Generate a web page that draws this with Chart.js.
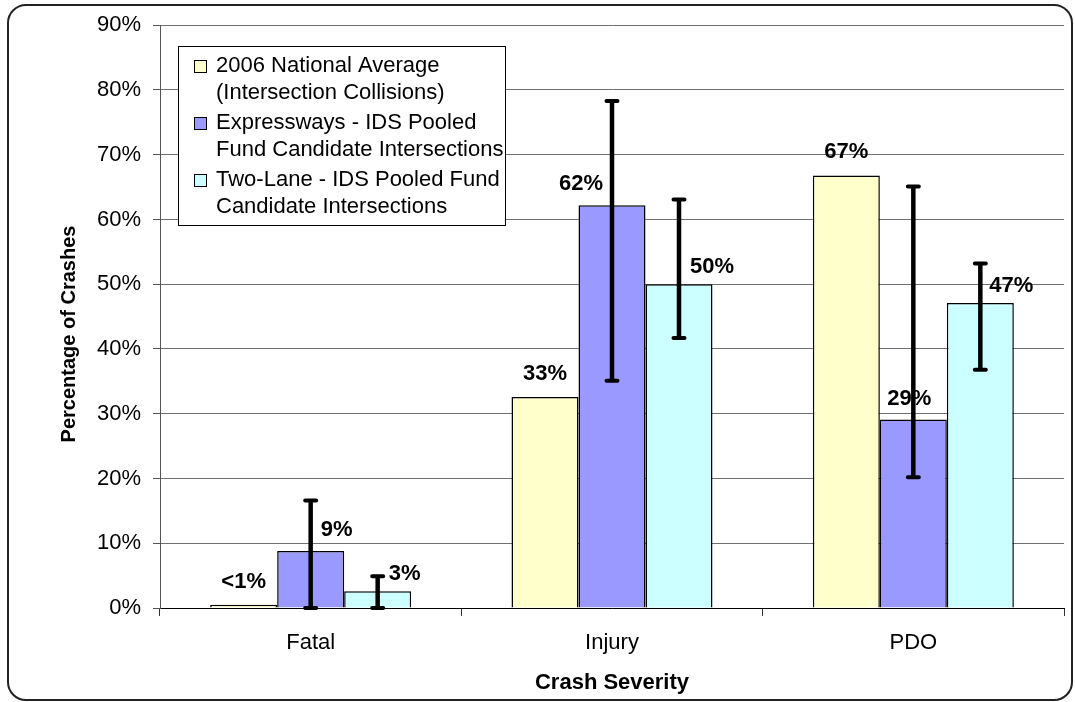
<!DOCTYPE html>
<html>
<head>
<meta charset="utf-8">
<script src="https://cdn.jsdelivr.net/npm/chart.js@4.4.1/dist/chart.umd.min.js"></script>
<style>
  body { margin: 0; background: #fff; }
  canvas { display: block; }
</style>
</head>
<body>
<canvas id="chart" width="1075" height="702"></canvas>
<script>
const categories = ["Fatal", "Injury", "PDO"];
const seriesNames = [
    ["2006 National Average", "(Intersection Collisions)"],
    ["Expressways - IDS Pooled", "Fund Candidate Intersections"],
    ["Two-Lane - IDS Pooled Fund", "Candidate Intersections"],
];
const nationalAvg = [0.5, 32.6, 66.8];
const expressways = [8.8, 62.2, 29.1];
const twoLane = [2.6, 50.0, 47.1];
const expresswaysLow = [0, 35.1, 20.2];
const expresswaysHigh = [16.6, 78.3, 65.1];
const twoLaneLow = [0, 41.7, 36.8];
const twoLaneHigh = [4.9, 63.1, 53.2];
const yTicks = [0, 10, 20, 30, 40, 50, 60, 70, 80, 90];
const yTitle = "Percentage of Crashes";

// hand placed value labels (nudged sideways to clear the error bars)
const labelShift = [[0, 0, 0], [26, -31, -4], [27, 33, 31]];
const labelLift = [23, 21, 17];

Chart.defaults.font.family = "'Liberation Sans', Arial, sans-serif";
Chart.defaults.color = "#000";

const fmt = v => (v < 1 ? "<1%" : Math.round(v) + "%");

const barExtras = {
    id: "barExtras",
    afterDatasetsDraw(chart) {
        const {ctx, scales: {y}} = chart;
        ctx.save();
        // value labels
        ctx.font = "bold 22px 'Liberation Sans', Arial, sans-serif";
        ctx.fillStyle = "#000";
        ctx.textAlign = "center";
        ctx.textBaseline = "middle";
        chart.data.datasets.forEach((ds, i) => {
            chart.getDatasetMeta(i).data.forEach((bar, j) => {
                ctx.fillText(fmt(ds.data[j]), bar.x + labelShift[i][j], bar.y - labelLift[i]);
            });
        });
        // error bars
        ctx.strokeStyle = "#000";
        chart.data.datasets.forEach((ds, i) => {
            if (!ds.errLow) return;
            chart.getDatasetMeta(i).data.forEach((bar, j) => {
                const top = y.getPixelForValue(ds.errHigh[j]);
                const bottom = y.getPixelForValue(ds.errLow[j]);
                ctx.lineWidth = 4.5;
                ctx.lineCap = "butt";
                ctx.beginPath();
                ctx.moveTo(bar.x, top);
                ctx.lineTo(bar.x, bottom);
                ctx.stroke();
                ctx.lineWidth = 4;
                ctx.lineCap = "round";
                ctx.beginPath();
                ctx.moveTo(bar.x - 5.5, top);
                ctx.lineTo(bar.x + 5.5, top);
                ctx.moveTo(bar.x - 5.5, bottom);
                ctx.lineTo(bar.x + 5.5, bottom);
                ctx.stroke();
            });
        });
        ctx.restore();
    }
};

const boxLegend = {
    id: "boxLegend",
    afterDraw(chart) {
        const ctx = chart.ctx;
        const x0 = 178, y0 = 46, w = 327, h = 179;
        ctx.save();
        ctx.fillStyle = "#fff";
        ctx.fillRect(x0, y0, w, h);
        ctx.strokeStyle = "#000";
        ctx.lineWidth = 1;
        ctx.strokeRect(x0 + 0.5, y0 + 0.5, w, h);
        ctx.font = "22px 'Liberation Sans', Arial, sans-serif";
        ctx.textBaseline = "middle";
        ctx.textAlign = "left";
        chart.data.datasets.forEach((ds, i) => {
            const cy = 66 + i * 57;
            ctx.fillStyle = ds.backgroundColor;
            ctx.fillRect(194, cy - 6, 12, 12);
            ctx.strokeStyle = "#000";
            ctx.strokeRect(194.5, cy - 5.5, 12, 12);
            ctx.fillStyle = "#000";
            seriesNames[i].forEach((line, k) => ctx.fillText(line, 216, cy + k * 27));
        });
        ctx.restore();
    }
};

// frame round the whole chart, plus the y title (sits a bit below the plot centre)
const frame = {
    id: "frame",
    afterDraw(chart) {
        const ctx = chart.ctx;
        ctx.save();
        ctx.strokeStyle = "#222";
        ctx.lineWidth = 2;
        ctx.beginPath();
        ctx.roundRect(8, 5, 1064, 695, 18);
        ctx.stroke();
        ctx.translate(69, 334);
        ctx.rotate(-Math.PI / 2);
        ctx.font = "bold 20px 'Liberation Sans', Arial, sans-serif";
        ctx.fillStyle = "#000";
        ctx.textAlign = "center";
        ctx.textBaseline = "middle";
        ctx.fillText(yTitle, 0, 0);
        ctx.restore();
    }
};

const datasets = [
    {label: seriesNames[0].join(" "), data: nationalAvg, backgroundColor: "#FFFFCC"},
    {label: seriesNames[1].join(" "), data: expressways, backgroundColor: "#9999FF",
        errLow: expresswaysLow, errHigh: expresswaysHigh},
    {label: seriesNames[2].join(" "), data: twoLane, backgroundColor: "#CCFFFF",
        errLow: twoLaneLow, errHigh: twoLaneHigh},
].map(d => Object.assign(d, {borderColor: "#000", borderWidth: 1.5, categoryPercentage: 0.667, barPercentage: 1}));

new Chart(document.getElementById("chart"), {
    type: "bar",
    data: {labels: categories, datasets: datasets},
    options: {
        responsive: false,
        animation: false,
        layout: {padding: {top: 23, right: 11, bottom: 0, left: 0}},
        plugins: {legend: {display: false}, tooltip: {enabled: false}},
        scales: {
            x: {
                grid: {drawOnChartArea: false, tickLength: 8, color: "#333"},
                border: {color: "#000"},
                ticks: {padding: 14, font: {size: 22}},
                title: {display: true, text: "Crash Severity", font: {size: 22, weight: "bold"}, padding: {top: 0, bottom: 6}},
                afterFit: a => { a.height = 94; }
            },
            y: {
                min: 0,
                max: 90,
                afterBuildTicks: a => { a.ticks = yTicks.map(v => ({value: v})); },
                ticks: {callback: v => v + "%", padding: 12, font: {size: 22}},
                grid: {color: "#707070", tickLength: 7, tickColor: "#555"},
                border: {color: "#555"},
                afterFit: a => { a.width = 160; }
            }
        }
    },
    plugins: [barExtras, boxLegend, frame]
});
</script>
</body>
</html>
